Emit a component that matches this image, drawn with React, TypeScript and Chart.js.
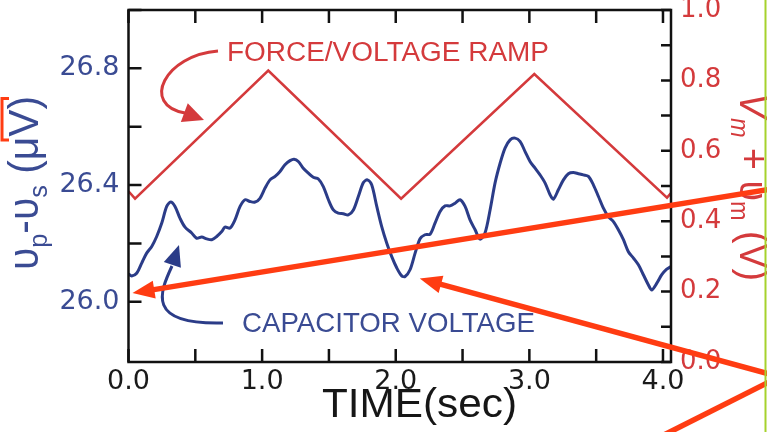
import React, { useEffect, useRef } from "react";
import { Chart, registerables } from "chart.js";

Chart.register(...registerables);

// ---------- data ----------
const timeSec = [
  0.0, 0.024, 0.061, 0.099, 0.136, 0.174, 0.211, 0.249, 0.286, 0.316, 0.348, 0.385, 0.423, 0.473,
  0.51, 0.548, 0.585, 0.623, 0.66, 0.698, 0.722, 0.76, 0.797, 0.835, 0.872, 0.909, 0.947, 0.984,
  1.022, 1.059, 1.097, 1.134, 1.171, 1.209, 1.239, 1.271, 1.308, 1.346, 1.383, 1.421, 1.458, 1.496,
  1.533, 1.57, 1.608, 1.645, 1.683, 1.72, 1.758, 1.788, 1.82, 1.858, 1.895, 1.933, 1.97, 2.008,
  2.045, 2.07, 2.107, 2.145, 2.182, 2.219, 2.257, 2.294, 2.332, 2.369, 2.406, 2.444, 2.481, 2.519,
  2.556, 2.594, 2.631, 2.668, 2.706, 2.743, 2.781, 2.818, 2.856, 2.893, 2.93, 2.968, 3.005, 3.043,
  3.08, 3.118, 3.155, 3.18, 3.217, 3.255, 3.292, 3.329, 3.367, 3.404, 3.442, 3.479, 3.517, 3.554,
  3.591, 3.629, 3.666, 3.704, 3.741, 3.779, 3.816, 3.853, 3.891, 3.916, 3.954, 3.991, 4.028, 4.06,
];
const capacitorVoltage = [
  26.095, 26.089, 26.098, 26.133, 26.167, 26.19, 26.224, 26.27, 26.327, 26.342, 26.327, 26.287, 26.256, 26.236,
  26.218, 26.222, 26.216, 26.213, 26.224, 26.241, 26.256, 26.253, 26.281, 26.327, 26.35, 26.344, 26.342, 26.355,
  26.39, 26.418, 26.43, 26.447, 26.47, 26.484, 26.489, 26.481, 26.458, 26.441, 26.427, 26.421, 26.395, 26.35,
  26.315, 26.304, 26.302, 26.298, 26.315, 26.361, 26.409, 26.418, 26.401, 26.327, 26.258, 26.201, 26.155, 26.116,
  26.089, 26.087, 26.11, 26.167, 26.216, 26.23, 26.232, 26.27, 26.31, 26.329, 26.329, 26.338, 26.35, 26.327,
  26.281, 26.247, 26.215, 26.236, 26.315, 26.407, 26.475, 26.527, 26.555, 26.561, 26.55, 26.515, 26.481, 26.458,
  26.435, 26.407, 26.367, 26.352, 26.384, 26.418, 26.439, 26.443, 26.439, 26.435, 26.43, 26.401, 26.361, 26.321,
  26.292, 26.275, 26.247, 26.213, 26.172, 26.15, 26.127, 26.093, 26.058, 26.041, 26.064, 26.093, 26.112, 26.121,
];
const rampTime = [0.0, 0.049, 1.046, 2.04, 3.037, 4.03, 4.06];
const rampVolts = [0.485, 0.464, 0.828, 0.464, 0.818, 0.467, 0.48];

const xTickValues = [0, 0.5, 1, 1.5, 2, 2.5, 3, 3.5, 4];
const xTickLabels = ["0.0", "1.0", "2.0", "3.0", "4.0"];
const leftTickValues = [26.0, 26.2, 26.4, 26.6, 26.8, 27.0];
const leftTickLabels = ["26.0", "26.4", "26.8"];
const rightTickValues = [0, 0.1, 0.2, 0.3, 0.4, 0.5, 0.6, 0.7, 0.8, 0.9, 1.0];
const rightTickLabels = ["0.0", "0.2", "0.4", "0.6", "0.8", "1.0"];

const rampLabel = "FORCE/VOLTAGE RAMP";
const capLabel = "CAPACITOR VOLTAGE";
const xTitle = "TIME(sec)";

// ---------- style ----------
const FONT = "'Liberation Sans', Arial, Helvetica, sans-serif";
const TICK_FONT = "'DejaVu Sans', 'Liberation Sans', sans-serif";
const BLUE = "#2b3c88";
const BLUE_TEXT = "#3a4b93";
const RED = "#d43a3c";
const ORANGE = "#ff3c12";

type Run = { t: string; sub?: boolean; italic?: boolean };
const leftTitleRuns: Run[] = [
  { t: "υ" }, { t: "p", sub: true }, { t: "-υ" }, { t: "s", sub: true }, { t: " (μV)" },
];
const rightTitleRuns: Run[] = [
  { t: "V", italic: true }, { t: "m", sub: true, italic: true }, { t: " + υ" }, { t: "m", sub: true }, { t: " (V)" },
];

function labelFor(v: number, labels: string[]) {
  const hit = labels.find((l) => Math.abs(parseFloat(l) - v) < 1e-6);
  return hit ?? "";
}

function fitText(ctx: CanvasRenderingContext2D, text: string, x: number, y: number, font: string, width: number, color: string) {
  ctx.save();
  ctx.font = font;
  const w = ctx.measureText(text).width;
  ctx.translate(x, y);
  ctx.scale(width / w, 1);
  ctx.fillStyle = color;
  ctx.textAlign = "left";
  ctx.textBaseline = "alphabetic";
  ctx.fillText(text, 0, 0);
  ctx.restore();
}

function drawRuns(ctx: CanvasRenderingContext2D, runs: Run[], size: number, length: number, color: string) {
  const fontFor = (r: Run) => `${r.italic ? "italic " : ""}${r.sub ? Math.round(size * 0.62) : size}px ${FONT}`;
  let total = 0;
  for (const r of runs) {
    ctx.font = fontFor(r);
    total += ctx.measureText(r.t).width;
  }
  ctx.scale(length / total, 1);
  ctx.fillStyle = color;
  ctx.textAlign = "left";
  ctx.textBaseline = "alphabetic";
  let x = 0;
  for (const r of runs) {
    ctx.font = fontFor(r);
    ctx.fillText(r.t, x, r.sub ? size * 0.22 : 0);
    x += ctx.measureText(r.t).width;
  }
}

function head(ctx: CanvasRenderingContext2D, tx: number, ty: number, ang: number, len: number, half: number, color: string) {
  const bx = tx - Math.cos(ang) * len;
  const by = ty - Math.sin(ang) * len;
  const px = -Math.sin(ang) * half;
  const py = Math.cos(ang) * half;
  ctx.fillStyle = color;
  ctx.beginPath();
  ctx.moveTo(tx, ty);
  ctx.lineTo(bx + px, by + py);
  ctx.lineTo(bx - px, by - py);
  ctx.closePath();
  ctx.fill();
}

function straightArrow(ctx: CanvasRenderingContext2D, x1: number, y1: number, x2: number, y2: number, color: string, lw: number, len: number, half: number) {
  const ang = Math.atan2(y2 - y1, x2 - x1);
  ctx.strokeStyle = color;
  ctx.lineWidth = lw;
  ctx.lineCap = "butt";
  ctx.beginPath();
  ctx.moveTo(x1, y1);
  ctx.lineTo(x2 - Math.cos(ang) * len * 0.7, y2 - Math.sin(ang) * len * 0.7);
  ctx.stroke();
  head(ctx, x2, y2, ang, len, half, color);
}

const overlayPlugin = {
  id: "overlay",
  afterDatasetsDraw(chart: any) {
    const { ctx, chartArea: a, scales } = chart;
    const x = scales.x, yL = scales.yL, yR = scales.yR;
    ctx.save();
    ctx.strokeStyle = "#111";
    ctx.lineWidth = 2.5;
    ctx.lineCap = "butt";
    ctx.strokeRect(a.left, a.top, a.right - a.left, a.bottom - a.top);
    ctx.beginPath();
    for (const v of xTickValues) {
      const px = x.getPixelForValue(v);
      ctx.moveTo(px, a.bottom); ctx.lineTo(px, a.bottom - 13);
      ctx.moveTo(px, a.top); ctx.lineTo(px, a.top + 13);
    }
    for (const v of leftTickValues) {
      const py = yL.getPixelForValue(v);
      ctx.moveTo(a.left, py); ctx.lineTo(a.left + 13, py);
    }
    for (const v of rightTickValues) {
      const py = yR.getPixelForValue(v);
      ctx.moveTo(a.right, py); ctx.lineTo(a.right - 10, py);
    }
    ctx.stroke();
    ctx.restore();
  },
  afterDraw(chart: any) {
    const { ctx, scales, width, height } = chart;
    const x = scales.x, yL = scales.yL;
    ctx.save();

    // axis titles
    fitText(ctx, xTitle, 322, 417, `40px ${FONT}`, 195, "#161616");

    ctx.save();
    ctx.translate(38, 270);
    ctx.rotate(-Math.PI / 2);
    drawRuns(ctx, leftTitleRuns, 42, 174, BLUE_TEXT);
    ctx.restore();

    ctx.save();
    ctx.translate(740, 93);
    ctx.rotate(Math.PI / 2);
    drawRuns(ctx, rightTitleRuns, 40, 188, RED);
    ctx.restore();

    // annotation labels
    fitText(ctx, rampLabel, 227, 61, `27px ${FONT}`, 322, RED);
    fitText(ctx, capLabel, 242, 332, `28px ${FONT}`, 293, BLUE_TEXT);

    // red curved arrow
    ctx.strokeStyle = RED;
    ctx.lineWidth = 3;
    ctx.beginPath();
    ctx.moveTo(218, 51);
    ctx.bezierCurveTo(165, 55, 140, 105, 185, 113);
    ctx.stroke();
    head(ctx, 204, 120, Math.atan2(120 - 113, 204 - 185), 21, 10, RED);

    // blue curved arrow
    ctx.strokeStyle = BLUE;
    ctx.lineWidth = 3;
    ctx.beginPath();
    ctx.moveTo(223, 323);
    ctx.bezierCurveTo(145, 325, 160, 292, 172, 266);
    ctx.stroke();
    head(ctx, 179, 245, Math.atan2(245 - 266, 179 - 172), 21, 9, BLUE);

    // orange overlay arrows
    const tip1x = x.getPixelForValue(0.03), tip1y = yL.getPixelForValue(26.03);
    straightArrow(ctx, width + 8, 188.5, tip1x, tip1y, ORANGE, 5.5, 22, 9);
    const tip2x = x.getPixelForValue(2.18), tip2y = yL.getPixelForValue(26.08);
    straightArrow(ctx, width + 13, 377, tip2x, tip2y, ORANGE, 5.5, 22, 9);
    ctx.strokeStyle = ORANGE;
    ctx.lineWidth = 5.5;
    ctx.beginPath();
    ctx.moveTo(width + 13, 376.4);
    ctx.lineTo(640, height + 15);
    ctx.stroke();

    // bracket at the left edge
    ctx.lineWidth = 3;
    ctx.beginPath();
    ctx.moveTo(9, 98.5); ctx.lineTo(2, 98.5); ctx.lineTo(2, 140); ctx.lineTo(9, 140);
    ctx.stroke();

    // green frame line at the right edge
    ctx.strokeStyle = "#a6d22c";
    ctx.lineWidth = 2;
    ctx.beginPath();
    ctx.moveTo(765.5, 0); ctx.lineTo(765.5, height);
    ctx.stroke();

    ctx.restore();
  },
};

export default function App() {
  const ref = useRef<HTMLCanvasElement>(null);
  useEffect(() => {
    const canvas = ref.current!;
    Chart.defaults.font.family = FONT;
    const chart = new Chart(canvas, {
      type: "line",
      data: {
        datasets: [
          {
            label: "ramp",
            data: rampTime.map((t, i) => ({ x: t, y: rampVolts[i] })),
            yAxisID: "yR",
            borderColor: RED,
            borderWidth: 2.5,
            pointRadius: 0,
            tension: 0,
          },
          {
            label: "capacitor",
            data: timeSec.map((t, i) => ({ x: t, y: capacitorVoltage[i] })),
            yAxisID: "yL",
            borderColor: BLUE,
            borderWidth: 3,
            pointRadius: 0,
            tension: 0.3,
          },
        ],
      },
      options: {
        animation: false,
        responsive: false,
        devicePixelRatio: 1,
        layout: { padding: { top: 10, left: 0, right: 0, bottom: 0 } },
        plugins: { legend: { display: false }, tooltip: { enabled: false } },
        scales: {
          x: {
            type: "linear",
            position: "bottom",
            min: 0,
            max: 4.06,
            grid: { display: false, drawTicks: false },
            border: { display: false },
            afterBuildTicks: (s: any) => { s.ticks = xTickValues.map((v) => ({ value: v })); },
            afterFit: (s: any) => { s.height = 70; s.paddingLeft = 0; s.paddingRight = 0; s.paddingTop = 0; s.paddingBottom = 0; },
            ticks: {
              autoSkip: false,
              maxRotation: 0,
              padding: 4,
              color: "#1a1a1a",
              font: { size: 27, family: TICK_FONT },
              callback: (v: any) => labelFor(Number(v), xTickLabels),
            },
          },
          yL: {
            type: "linear",
            position: "left",
            min: 25.794,
            max: 27.0,
            grid: { display: false, drawTicks: false },
            border: { display: false },
            afterBuildTicks: (s: any) => { s.ticks = leftTickValues.map((v) => ({ value: v })); },
            afterFit: (s: any) => { s.width = 128.5; s.paddingLeft = 0; s.paddingRight = 0; s.paddingTop = 0; s.paddingBottom = 0; },
            ticks: {
              autoSkip: false,
              padding: 9,
              color: BLUE_TEXT,
              font: { size: 27, family: TICK_FONT },
              callback: (v: any) => labelFor(Number(v), leftTickLabels),
            },
          },
          yR: {
            type: "linear",
            position: "right",
            min: 0,
            max: 1,
            grid: { display: false, drawTicks: false },
            border: { display: false },
            afterBuildTicks: (s: any) => { s.ticks = rightTickValues.map((v) => ({ value: v })); },
            afterFit: (s: any) => { s.width = 96; s.paddingLeft = 0; s.paddingRight = 0; s.paddingTop = 0; s.paddingBottom = 0; },
            ticks: {
              autoSkip: false,
              padding: 9,
              color: RED,
              font: { size: 26, family: TICK_FONT },
              callback: (v: any) => labelFor(Number(v), rightTickLabels),
            },
          },
        },
      },
      plugins: [overlayPlugin],
    });
    return () => chart.destroy();
  }, []);
  return (
    <div style={{ position: "fixed", left: 0, top: 0, width: 767, height: 432, background: "#fff" }}>
      <canvas ref={ref} width={767} height={432} style={{ display: "block" }} />
    </div>
  );
}
